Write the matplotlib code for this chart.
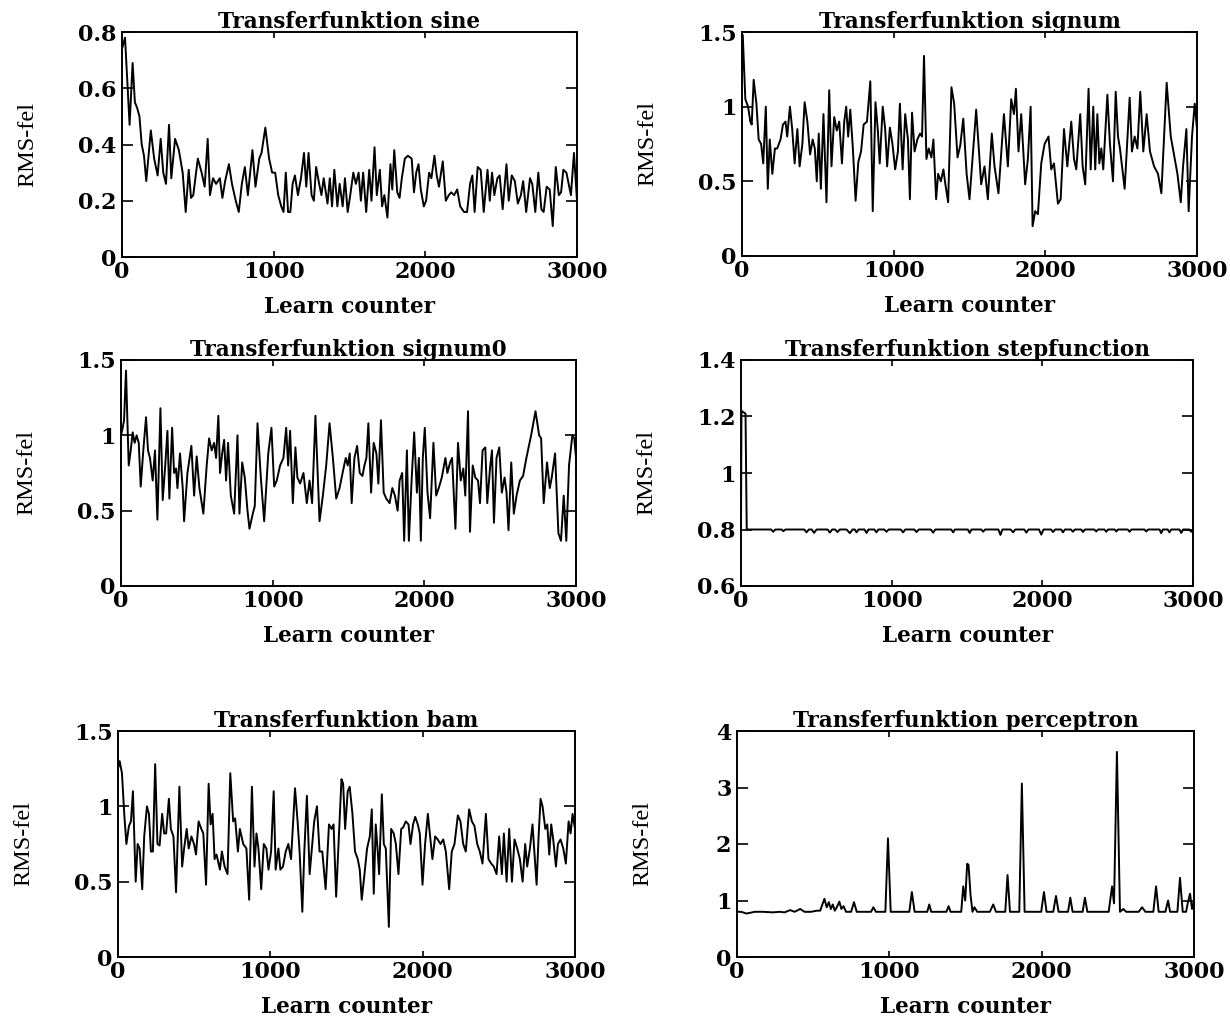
import matplotlib
matplotlib.use("Agg")
import matplotlib.pyplot as plt
from matplotlib.ticker import FuncFormatter

# ---- Transferfunktion sine ----
sine_x = [0, 20, 50, 70, 85, 100, 115, 130, 145, 160, 190, 212, 235, 255, 272, 290, 310,
          325, 350, 375, 400, 420, 440, 455, 470, 500, 525, 545, 565, 580, 600, 620, 645,
          662, 680, 705, 725, 750, 770, 790, 810, 830, 860, 880, 905, 920, 945, 970, 990,
          1010, 1030, 1050, 1065, 1080, 1095, 1110, 1125, 1140, 1160, 1180, 1200, 1215,
          1230, 1250, 1265, 1280, 1300, 1315, 1330, 1355, 1370, 1385, 1400, 1420, 1435,
          1455, 1470, 1488, 1505, 1525, 1542, 1560, 1575, 1590, 1610, 1630, 1645, 1665,
          1680, 1700, 1715, 1730, 1750, 1770, 1782, 1795, 1815, 1830, 1845, 1865, 1885,
          1910, 1925, 1940, 1955, 1970, 1990, 2005, 2025, 2040, 2060, 2075, 2090, 2115,
          2135, 2155, 2170, 2190, 2210, 2230, 2255, 2275, 2295, 2310, 2325, 2345, 2365,
          2385, 2410, 2425, 2440, 2455, 2475, 2490, 2510, 2535, 2550, 2570, 2590, 2610,
          2630, 2645, 2665, 2690, 2705, 2725, 2745, 2765, 2780, 2800, 2820, 2840, 2860,
          2880, 2895, 2910, 2930, 2960, 2980, 3000]
sine_y = [0.74, 0.78, 0.47, 0.69, 0.55, 0.53, 0.50, 0.40, 0.36, 0.27, 0.45, 0.35, 0.29,
          0.42, 0.30, 0.26, 0.47, 0.28, 0.42, 0.38, 0.30, 0.16, 0.31, 0.21, 0.22, 0.35,
          0.30, 0.25, 0.42, 0.22, 0.28, 0.26, 0.28, 0.21, 0.27, 0.33, 0.26, 0.20, 0.16,
          0.26, 0.32, 0.22, 0.38, 0.25, 0.35, 0.37, 0.46, 0.35, 0.30, 0.30, 0.22, 0.18,
          0.16, 0.30, 0.16, 0.16, 0.26, 0.29, 0.22, 0.28, 0.37, 0.25, 0.37, 0.22, 0.20,
          0.32, 0.26, 0.22, 0.28, 0.19, 0.28, 0.18, 0.31, 0.18, 0.26, 0.18, 0.28, 0.16,
          0.22, 0.30, 0.26, 0.30, 0.20, 0.30, 0.16, 0.31, 0.20, 0.39, 0.22, 0.31, 0.18,
          0.22, 0.14, 0.33, 0.24, 0.38, 0.23, 0.21, 0.28, 0.35, 0.36, 0.35, 0.23, 0.30,
          0.33, 0.24, 0.18, 0.20, 0.30, 0.28, 0.36, 0.29, 0.25, 0.34, 0.20, 0.22, 0.23,
          0.22, 0.24, 0.18, 0.16, 0.16, 0.26, 0.29, 0.16, 0.32, 0.31, 0.16, 0.31, 0.20,
          0.30, 0.22, 0.28, 0.29, 0.17, 0.33, 0.20, 0.29, 0.27, 0.19, 0.22, 0.27, 0.16,
          0.28, 0.26, 0.16, 0.30, 0.17, 0.16, 0.25, 0.24, 0.11, 0.32, 0.22, 0.23, 0.31,
          0.30, 0.22, 0.37, 0.20]

# ---- Transferfunktion signum ----
signum_x = [0, 5, 22, 40, 55, 64, 77, 95, 110, 126, 140, 157, 170, 183, 200, 217, 232,
            254, 270, 287, 298, 316, 331, 347, 365, 380, 398, 413, 431, 449, 466, 480,
            493, 506, 520, 537, 557, 575, 590, 608, 625, 641, 659, 674, 687, 700, 714,
            731, 749, 767, 785, 802, 824, 846, 862, 880, 895, 908, 928, 944, 957, 975,
            992, 1010, 1028, 1041, 1059, 1076, 1094, 1107, 1121, 1138, 1156, 1174, 1187,
            1200, 1216, 1231, 1249, 1262, 1280, 1293, 1311, 1328, 1341, 1359, 1381, 1399,
            1421, 1439, 1459, 1481, 1500, 1544, 1577, 1599, 1621, 1647, 1665, 1691, 1727,
            1753, 1775, 1793, 1806, 1823, 1841, 1867, 1885, 1903, 1916, 1933, 1951, 1973,
            1995, 2021, 2039, 2057, 2083, 2101, 2123, 2145, 2171, 2189, 2204, 2230, 2246,
            2263, 2285, 2299, 2316, 2329, 2343, 2356, 2369, 2382, 2409, 2426, 2446, 2464,
            2479, 2492, 2523, 2556, 2571, 2589, 2607, 2626, 2646, 2668, 2690, 2717, 2743,
            2765, 2800, 2827, 2853, 2871, 2893, 2908, 2930, 2945, 2967, 2985, 3000]
signum_y = [1.20, 1.48, 1.05, 1.00, 0.90, 0.88, 1.18, 1.02, 0.78, 0.75, 0.62, 1.00, 0.45,
            0.78, 0.55, 0.72, 0.72, 0.78, 0.88, 0.90, 0.80, 1.00, 0.85, 0.62, 0.85, 0.60,
            0.75, 1.03, 0.90, 0.68, 0.78, 0.72, 0.50, 0.82, 0.45, 0.95, 0.36, 1.11, 0.60,
            0.93, 0.84, 0.90, 0.62, 0.90, 1.00, 0.80, 0.98, 0.72, 0.37, 0.63, 0.70, 0.88,
            0.90, 1.17, 0.30, 1.03, 0.85, 0.62, 1.00, 0.85, 0.60, 0.86, 0.75, 0.58, 0.70,
            1.02, 0.58, 0.95, 0.78, 0.38, 0.96, 0.70, 0.78, 0.82, 0.80, 1.34, 0.65, 0.72,
            0.66, 0.78, 0.38, 0.55, 0.50, 0.58, 0.48, 0.36, 1.13, 1.02, 0.66, 0.74, 0.92,
            0.55, 0.38, 0.98, 0.48, 0.60, 0.38, 0.82, 0.60, 0.42, 0.95, 0.60, 1.05, 0.95,
            1.12, 0.70, 0.95, 0.48, 0.65, 1.00, 0.20, 0.30, 0.28, 0.62, 0.75, 0.80, 0.58,
            0.62, 0.35, 0.38, 0.85, 0.60, 0.90, 0.65, 0.58, 0.95, 0.60, 0.48, 1.12, 0.58,
            1.00, 0.58, 0.95, 0.62, 0.72, 0.58, 1.08, 0.75, 0.50, 1.10, 0.80, 0.72, 0.45,
            1.06, 0.70, 0.80, 0.72, 1.10, 0.70, 0.95, 0.70, 0.60, 0.55, 0.42, 1.16, 0.80,
            0.65, 0.55, 0.36, 0.60, 0.85, 0.30, 0.80, 1.02, 0.85]

# ---- Transferfunktion signum0 ----
signum0_x = [0, 11, 20, 33, 42, 51, 64, 77, 90, 103, 117, 130, 147, 165, 178, 191, 209,
             224, 240, 260, 275, 293, 306, 319, 337, 350, 363, 372, 389, 407, 416, 438,
             464, 482, 499, 517, 543, 565, 581, 598, 614, 627, 642, 653, 667, 680, 693,
             706, 724, 746, 768, 781, 799, 816, 834, 847, 869, 882, 900, 922, 944, 971,
             992, 1010, 1027, 1049, 1071, 1089, 1102, 1115, 1133, 1150, 1163, 1181, 1203,
             1225, 1243, 1260, 1282, 1309, 1331, 1353, 1375, 1397, 1419, 1441, 1465, 1482,
             1495, 1508, 1521, 1539, 1557, 1574, 1592, 1605, 1618, 1631, 1649, 1666, 1684,
             1697, 1714, 1732, 1749, 1771, 1789, 1806, 1824, 1837, 1854, 1867, 1885, 1898,
             1916, 1933, 1951, 1964, 1977, 1990, 2003, 2021, 2038, 2060, 2078, 2095, 2115,
             2139, 2152, 2170, 2183, 2205, 2222, 2240, 2257, 2270, 2288, 2301, 2319, 2336,
             2354, 2367, 2384, 2402, 2415, 2433, 2446, 2459, 2476, 2494, 2511, 2529, 2542,
             2555, 2573, 2590, 2608, 2630, 2651, 2673, 2704, 2733, 2757, 2770, 2787, 2809,
             2827, 2840, 2862, 2884, 2901, 2919, 2936, 2954, 2976, 2989, 3000]
signum0_y = [1.00, 1.05, 1.10, 1.43, 1.10, 0.80, 0.90, 1.02, 0.95, 1.00, 0.95, 0.66, 0.90,
             1.12, 0.90, 0.85, 0.70, 0.90, 0.44, 1.18, 0.57, 0.82, 1.03, 0.58, 1.05, 0.75,
             0.78, 0.65, 0.88, 0.65, 0.43, 0.75, 0.93, 0.60, 0.86, 0.65, 0.48, 0.80, 0.98,
             0.90, 0.95, 0.85, 1.13, 0.75, 0.88, 0.97, 0.70, 0.95, 0.60, 0.48, 1.00, 0.48,
             0.82, 0.72, 0.50, 0.38, 0.48, 0.53, 1.08, 0.72, 0.43, 0.88, 1.05, 0.66, 0.70,
             0.80, 0.85, 1.05, 0.80, 1.03, 0.55, 0.92, 0.72, 0.68, 0.75, 0.55, 0.70, 0.55,
             1.13, 0.43, 0.60, 0.80, 1.08, 0.85, 0.58, 0.65, 0.77, 0.85, 0.80, 0.88, 0.55,
             0.85, 0.93, 0.75, 0.73, 0.80, 0.85, 1.08, 0.62, 0.95, 0.88, 0.68, 1.10, 0.62,
             0.58, 0.55, 0.65, 0.60, 0.50, 0.70, 0.75, 0.30, 0.90, 0.30, 0.70, 1.02, 0.62,
             0.85, 0.30, 0.85, 1.05, 0.62, 0.45, 0.95, 0.60, 0.65, 0.72, 0.85, 0.75, 0.82,
             0.85, 0.38, 0.95, 0.70, 0.78, 0.60, 1.16, 0.36, 0.80, 0.72, 0.70, 0.55, 0.90,
             0.92, 0.55, 0.78, 0.90, 0.42, 0.85, 0.92, 0.62, 0.72, 0.62, 0.37, 0.82, 0.48,
             0.60, 0.70, 0.73, 0.85, 1.00, 1.16, 1.00, 0.98, 0.55, 0.82, 0.65, 0.72, 0.88,
             0.35, 0.30, 0.60, 0.30, 0.80, 1.00, 0.98, 0.85]

# ---- Transferfunktion stepfunction ----
step_x = [0, 3, 30, 38, 200, 214, 228, 270, 281, 295, 420, 435, 450, 470, 485, 502, 520,
          575, 590, 605, 625, 640, 656, 670, 700, 723, 740, 755, 767, 780, 820, 833, 846,
          885, 899, 912, 950, 966, 980, 1060, 1076, 1090, 1150, 1165, 1180, 1260, 1275,
          1290, 1395, 1408, 1420, 1505, 1518, 1530, 1595, 1607, 1620, 1708, 1722, 1735,
          1790, 1806, 1820, 1880, 1894, 1908, 1978, 1993, 2008, 2058, 2071, 2085, 2125,
          2137, 2150, 2190, 2203, 2216, 2258, 2270, 2282, 2345, 2358, 2370, 2412, 2424,
          2436, 2480, 2491, 2502, 2567, 2579, 2591, 2678, 2690, 2702, 2778, 2789, 2800,
          2832, 2844, 2856, 2910, 2922, 2934, 2976, 2988, 3000]
step_y = [0.80, 1.22, 1.21, 0.80, 0.80, 0.792, 0.80, 0.80, 0.794, 0.80, 0.80, 0.790, 0.80,
          0.80, 0.788, 0.80, 0.80, 0.80, 0.789, 0.80, 0.80, 0.791, 0.80, 0.80, 0.80, 0.787,
          0.80, 0.80, 0.790, 0.80, 0.80, 0.788, 0.80, 0.80, 0.790, 0.80, 0.80, 0.792, 0.80,
          0.80, 0.790, 0.80, 0.80, 0.791, 0.80, 0.80, 0.789, 0.80, 0.80, 0.790, 0.80, 0.80,
          0.788, 0.80, 0.80, 0.792, 0.80, 0.80, 0.781, 0.80, 0.80, 0.790, 0.80, 0.80, 0.789,
          0.80, 0.80, 0.782, 0.80, 0.80, 0.791, 0.80, 0.80, 0.790, 0.80, 0.80, 0.792, 0.80,
          0.80, 0.791, 0.80, 0.80, 0.793, 0.80, 0.80, 0.792, 0.80, 0.80, 0.793, 0.80, 0.80,
          0.792, 0.80, 0.80, 0.793, 0.80, 0.80, 0.787, 0.80, 0.80, 0.790, 0.80, 0.80, 0.788,
          0.80, 0.80, 0.792, 0.80]

# ---- Transferfunktion bam ----
bam_x = [0, 11, 26, 41, 55, 72, 85, 98, 116, 129, 142, 159, 172, 190, 203, 216, 229, 244,
         259, 273, 290, 303, 316, 334, 347, 364, 381, 403, 421, 434, 451, 464, 482, 499,
         512, 529, 547, 560, 578, 595, 608, 621, 634, 647, 669, 682, 700, 719, 737, 756,
         769, 787, 800, 822, 843, 861, 879, 896, 909, 922, 940, 957, 974, 988, 1005, 1022,
         1035, 1053, 1066, 1083, 1101, 1118, 1136, 1162, 1179, 1192, 1210, 1223, 1240,
         1258, 1275, 1288, 1306, 1323, 1341, 1363, 1385, 1402, 1415, 1432, 1450, 1467,
         1478, 1491, 1508, 1521, 1539, 1556, 1574, 1587, 1600, 1618, 1635, 1653, 1666,
         1679, 1692, 1705, 1714, 1732, 1745, 1758, 1778, 1793, 1810, 1824, 1841, 1859,
         1872, 1889, 1907, 1920, 1937, 1951, 1968, 1981, 1999, 2016, 2034, 2047, 2064,
         2082, 2099, 2117, 2135, 2152, 2174, 2191, 2209, 2231, 2248, 2266, 2283, 2305,
         2323, 2340, 2358, 2375, 2393, 2415, 2432, 2450, 2467, 2485, 2502, 2520, 2533,
         2551, 2568, 2586, 2603, 2621, 2638, 2656, 2673, 2686, 2704, 2721, 2748, 2761,
         2774, 2787, 2805, 2818, 2831, 2844, 2857, 2875, 2888, 2905, 2923, 2940, 2958,
         2971, 2984, 3000]
bam_y = [1.25, 1.30, 1.22, 0.95, 0.75, 0.87, 0.90, 1.10, 0.50, 0.75, 0.72, 0.45, 0.80,
         1.00, 0.95, 0.70, 0.70, 1.28, 0.75, 0.74, 0.95, 0.82, 0.82, 1.05, 0.85, 0.80,
         0.43, 1.13, 0.60, 0.72, 0.85, 0.72, 0.80, 0.75, 0.68, 0.90, 0.85, 0.82, 0.48,
         1.15, 0.88, 0.95, 0.65, 0.68, 0.58, 0.70, 0.60, 0.55, 1.22, 0.90, 0.92, 0.70,
         0.85, 0.75, 0.72, 0.38, 1.13, 0.60, 0.82, 0.72, 0.45, 0.75, 0.72, 0.58, 0.70,
         1.10, 0.58, 0.72, 0.58, 0.60, 0.70, 0.75, 0.65, 1.12, 0.90, 0.70, 0.30, 0.70,
         1.07, 0.55, 0.75, 0.90, 1.00, 0.70, 0.70, 0.45, 0.88, 0.85, 0.88, 0.40, 0.80,
         1.18, 1.15, 0.85, 1.10, 1.13, 0.95, 0.70, 0.65, 0.58, 0.38, 0.55, 0.72, 0.80,
         0.98, 0.42, 0.88, 0.70, 0.55, 1.08, 0.75, 0.72, 0.20, 0.85, 0.82, 0.75, 0.55,
         0.85, 0.86, 0.90, 0.88, 0.75, 0.88, 0.93, 0.88, 0.82, 0.48, 0.75, 0.95, 0.82,
         0.65, 0.80, 0.78, 0.75, 0.78, 0.70, 0.45, 0.70, 0.75, 0.94, 0.90, 0.75, 0.70,
         0.98, 0.90, 0.87, 0.75, 0.70, 0.62, 0.95, 0.65, 0.62, 0.60, 0.55, 0.80, 0.55,
         0.82, 0.50, 0.85, 0.50, 0.78, 0.72, 0.65, 0.50, 0.75, 0.60, 0.72, 0.88, 0.48,
         0.80, 1.05, 1.00, 0.85, 0.88, 0.68, 0.88, 0.78, 0.60, 0.75, 0.78, 0.72, 0.62,
         0.90, 0.82, 0.95, 0.85]

# ---- Transferfunktion perceptron ----
perc_x = [0, 28, 61, 83, 116, 170, 236, 280, 312, 349, 378, 415, 443, 487, 524, 546, 574,
          589, 603, 616, 629, 642, 655, 672, 685, 699, 716, 749, 768, 786, 847, 880, 895,
          912, 974, 991, 1009, 1131, 1148, 1166, 1249, 1262, 1275, 1375, 1389, 1402, 1472,
          1485, 1498, 1511, 1520, 1533, 1546, 1559, 1577, 1660, 1682, 1700, 1761, 1776,
          1792, 1853, 1870, 1888, 1997, 2015, 2032, 2076, 2094, 2111, 2173, 2188, 2203,
          2269, 2284, 2300, 2440, 2462, 2475, 2494, 2514, 2536, 2554, 2637, 2659, 2681,
          2733, 2751, 2768, 2812, 2830, 2843, 2891, 2908, 2926, 2948, 2961, 2974, 2987,
          3000]
perc_y = [0.80, 0.80, 0.77, 0.78, 0.80, 0.80, 0.79, 0.80, 0.79, 0.83, 0.80, 0.85, 0.80,
          0.80, 0.82, 0.82, 1.03, 0.88, 0.97, 0.85, 0.93, 0.82, 0.88, 0.98, 0.85, 0.90,
          0.80, 0.80, 0.97, 0.80, 0.80, 0.80, 0.88, 0.80, 0.80, 2.10, 0.80, 0.80, 1.15,
          0.80, 0.80, 0.93, 0.80, 0.80, 0.90, 0.80, 0.80, 1.25, 1.00, 1.65, 1.63, 1.10,
          0.80, 0.88, 0.80, 0.80, 0.93, 0.80, 0.80, 1.45, 0.80, 0.80, 3.07, 0.80, 0.80,
          1.15, 0.80, 0.80, 1.08, 0.80, 0.80, 1.05, 0.80, 0.80, 1.05, 0.80, 0.80, 1.25,
          0.95, 3.63, 0.80, 0.85, 0.80, 0.80, 0.88, 0.80, 0.80, 1.25, 0.80, 0.80, 1.00,
          0.80, 0.80, 1.40, 0.80, 0.80, 0.98, 1.12, 0.85, 1.00]

titles = ["Transferfunktion sine", "Transferfunktion signum", "Transferfunktion signum0",
          "Transferfunktion stepfunction", "Transferfunktion bam",
          "Transferfunktion perceptron"]
series = [(sine_x, sine_y), (signum_x, signum_y), (signum0_x, signum0_y),
          (step_x, step_y), (bam_x, bam_y), (perc_x, perc_y)]
ylims = [(0, 0.8), (0, 1.5), (0, 1.5), (0.6, 1.4), (0, 1.5), (0, 4)]
yticks = [[0, 0.2, 0.4, 0.6, 0.8], [0, 0.5, 1, 1.5], [0, 0.5, 1, 1.5],
          [0.6, 0.8, 1, 1.2, 1.4], [0, 0.5, 1, 1.5], [0, 1, 2, 3, 4]]
xticks = [0, 1000, 2000, 3000]

W, H = 1230, 1018
# axes boxes in pixels: left, top, right, bottom
boxes = [(122, 32, 577, 257), (742, 32, 1197, 256),
         (121, 360, 576, 586), (741, 360, 1193, 586),
         (118, 731, 575, 957), (737, 731, 1194, 957)]

fig = plt.figure(figsize=(W / 100, H / 100), dpi=100)
fmt = FuncFormatter(lambda v, p: "%g" % v)

for i in range(6):
    l, t, r, b = boxes[i]
    w_px, h_px = r - l, b - t
    ax = fig.add_axes([l / W, 1 - b / H, w_px / W, h_px / H])
    x, y = series[i]
    ax.plot(x, y, color="black", lw=1.4)
    ax.set_xlim(0, 3000)
    ax.set_ylim(*ylims[i])
    ax.set_xticks(xticks)
    ax.set_yticks(yticks[i])
    ax.yaxis.set_major_formatter(fmt)
    ax.tick_params(axis="both", direction="in", top=True, right=True, width=1.2, color="black")
    ax.tick_params(axis="x", length=4, pad=3)
    ax.tick_params(axis="y", length=8, pad=4)
    for lab in ax.get_xticklabels() + ax.get_yticklabels():
        lab.set_fontfamily("DejaVu Serif")
        lab.set_fontweight("bold")
        lab.set_fontsize(16)
    for s in ax.spines.values():
        s.set_linewidth(1.4)
    ax.set_title(titles[i], family="DejaVu Serif", weight="bold", size=15.5, pad=3)
    # axis labels sit at fixed pixel offsets from the axes frame
    ax.set_xlabel("Learn counter", family="DejaVu Serif", weight="bold", size=15.5)
    ax.xaxis.set_label_coords(0.5, -50 / h_px, transform=ax.transAxes)
    ax.xaxis.label.set_verticalalignment("center")
    ax.set_ylabel("RMS-fel", family="Liberation Serif", size=17.5)
    ax.yaxis.set_label_coords(-94 / w_px, 0.5, transform=ax.transAxes)
    ax.yaxis.label.set_verticalalignment("center")

fig.savefig("out.png", dpi=100, facecolor="white")
